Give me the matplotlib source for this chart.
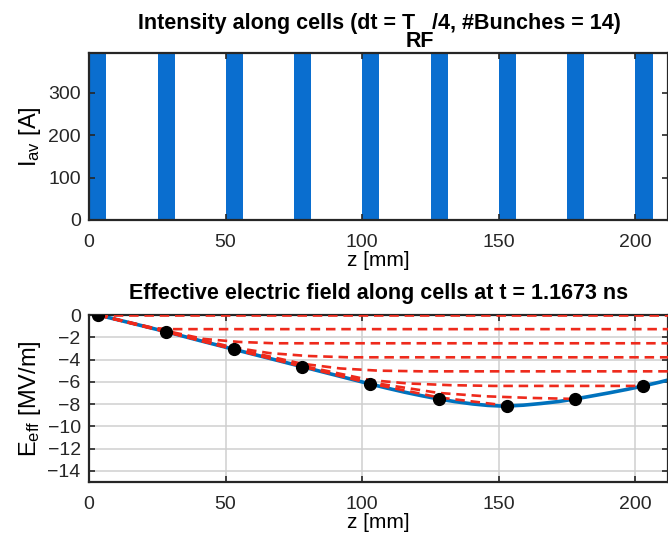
import numpy as np
import matplotlib
matplotlib.use("Agg")
import matplotlib.pyplot as plt
from matplotlib.transforms import IdentityTransform

plt.rcParams["font.family"] = ["Liberation Sans", "DejaVu Sans"]
plt.rcParams["mathtext.fontset"] = "custom"
plt.rcParams["mathtext.rm"] = "Liberation Sans"
plt.rcParams["mathtext.it"] = "Liberation Sans:italic"
plt.rcParams["mathtext.bf"] = "Liberation Sans:bold"

# bunches (top panel)
bunch_start = [0, 25.1, 50.1, 75.0, 100.0, 125.1, 150.0, 175.0, 199.9]
bunch_width = [6.4, 6.3, 6.3, 6.2, 6.2, 6.3, 6.2, 6.2, 6.5]
bunch_current = [394, 394, 394, 394, 394, 394, 394, 394, 394]

# effective field curve (bottom panel)
z_curve = [3.3, 15.7, 28.2, 40.6, 53, 65.5, 78, 90.5, 103, 109, 115.5, 122, 128,
           134, 140.5, 146, 150.5, 155, 159, 165.5, 172, 178, 184, 190.5, 197, 203, 209, 214]
e_curve = [0, -0.74, -1.5, -2.3, -3.08, -3.86, -4.64, -5.42, -6.2, -6.56, -6.93, -7.26, -7.54,
           -7.78, -7.99, -8.12, -8.17, -8.15, -8.1, -7.95, -7.77, -7.54, -7.28, -6.99, -6.68, -6.37, -6.03, -5.72]

# field at bunch centres
z_dots = [3.3, 28.2, 53, 78, 103, 128, 153, 178, 203]
e_dots = [0, -1.5, -3.08, -4.64, -6.2, -7.54, -8.14, -7.54, -6.37]

# red dashed lines
red_z = [
    [3.3, 214],
    [3.3, 22, 30, 214],
    [3.3, 28.2, 42, 55, 68, 214],
    [3.3, 28.2, 53, 66, 80, 95, 214],
    [3.3, 28.2, 53, 78, 92, 106, 122, 214],
    [3.3, 28.2, 53, 78, 103, 117, 132, 148, 203],
    [3.3, 28.2, 53, 78, 103, 128, 145, 162, 178],
    [3.3, 28.2, 53, 78, 103, 128, 153],
]
red_e = [
    [0, 0],
    [0, -1.15, -1.27, -1.27],
    [0, -1.42, -2.15, -2.42, -2.54, -2.54],
    [0, -1.46, -2.92, -3.42, -3.68, -3.8, -3.8],
    [0, -1.48, -3.0, -4.38, -4.8, -5.0, -5.06, -5.06],
    [0, -1.5, -3.05, -4.55, -5.85, -6.15, -6.3, -6.37, -6.37],
    [0, -1.5, -3.07, -4.6, -6.05, -7.0, -7.3, -7.45, -7.54],
    [0, -1.5, -3.08, -4.62, -6.15, -7.4, -8.14],
]

W, H = 668, 540
fig = plt.figure(figsize=(W / 100, H / 100), dpi=100)

left, right = 89 / W, 668 / W
ax1 = fig.add_axes([left, 1 - 220 / H, right - left, 167 / H])
ax2 = fig.add_axes([left, 1 - 482 / H, right - left, 167 / H])

ax1.bar(bunch_start, bunch_current, width=bunch_width, align="edge",
        color="#0a6ecf", edgecolor="none")
ax1.set_xlim(0, 212)
ax1.set_ylim(0, max(bunch_current))
ax1.set_yticks([0, 100, 200, 300])

ax2.grid(True, color="#cfcfcf", lw=1.1)
ax2.set_axisbelow(True)
ax2.plot(z_curve, e_curve, color="#0072BD", lw=2.6, zorder=2)
for zz, ee in zip(red_z, red_e):
    ax2.plot(zz, ee, color="#ee2a1c", lw=1.9, dashes=(3.6, 2.2), zorder=3)
ax2.plot(z_dots, e_dots, "o", color="black", ms=8.5, zorder=4)
ax2.set_xlim(0, 212)
ax2.set_ylim(-15, 0)
ax2.set_yticks(np.arange(-14, 1, 2))

for ax in (ax1, ax2):
    ax.set_xticks([0, 50, 100, 150, 200])
    ax.tick_params(direction="in", length=4, width=1.2, labelsize=14,
                   top=True, right=True, colors="#262626")
    ax.tick_params(axis="x", pad=10)
    ax.tick_params(axis="y", pad=6)
    for s in ax.spines.values():
        s.set_linewidth(1.6)
        s.set_color("#262626")
    ax.set_xlabel("z [mm]", fontsize=15, labelpad=0)

ax1.set_ylabel(r"I$_{\mathrm{av}}$ [A]", fontsize=17)
ax2.set_ylabel(r"E$_{\mathrm{eff}}$ [MV/m]", fontsize=17)
ax1.yaxis.set_label_coords(-0.08, 0.5)
ax2.yaxis.set_label_coords(-0.08, 0.5)

# titles, drawn in pixels so the subscript can stay large
fig.canvas.draw()
r = fig.canvas.get_renderer()
cx = (89 + 668) / 2
fs = 15.5
parts = ["Intensity along cells (dt = T", "RF", "/4, #Bunches = 14)"]
drops = [0, 18, 0]
shifts = [0, -7, 0]
texts = []
for p, d in zip(parts, drops):
    t = fig.text(0, 0, p, fontsize=fs, weight="bold", transform=IdentityTransform(),
                 ha="left", va="baseline")
    texts.append((t, d))
widths = [t.get_window_extent(r).width - 2 for t, _ in texts]
x = cx - (sum(widths) + sum(shifts)) / 2
for (t, d), w, s in zip(texts, widths, shifts):
    x += s
    t.set_position((x, 511 - d))
    x += w

fig.text(cx, H - 299, "Effective electric field along cells at t = 1.1673 ns",
         fontsize=fs, weight="bold", transform=IdentityTransform(),
         ha="center", va="baseline")

fig.savefig("out.png", dpi=100)
